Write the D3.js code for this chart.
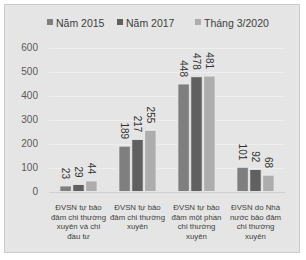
<!DOCTYPE html>
<html lang="vi">
<head>
  <meta charset="UTF-8">
  <title>ĐVSN chart</title>
  <script src="https://d3js.org/d3.v7.min.js"></script>
  <style>
    body { margin: 0; background: #fff; }
    text { font-family: "Liberation Sans", Arial, sans-serif; }
  </style>
</head>
<body>
  <svg width="306" height="260"></svg>

  <script>
    // data
    var categories = [
      ["ĐVSN tự bảo", "đảm chi thường", "xuyên và chi", "đầu tư"],
      ["ĐVSN tự bảo", "đảm chi thường", "xuyên"],
      ["ĐVSN tự bảo", "đảm một phần", "chi thường", "xuyên"],
      ["ĐVSN do Nhà", "nước bảo đảm", "chi thường", "xuyên"]
    ];
    var seriesNames = ["Năm 2015", "Năm 2017", "Tháng 3/2020"];
    var v2015 = [23, 189, 448, 101];
    var v2017 = [29, 217, 478, 92];
    var v2020 = [44, 255, 481, 68];
    var yTicks = [0, 100, 200, 300, 400, 500, 600];
    var colors = ["#7f7f7f", "#606060", "#adadad"];

    var series = [v2015, v2017, v2020];

    var svg = d3.select("svg");

    // chart frame
    svg.append("rect")
        .attr("x", 4.5).attr("y", 4.5)
        .attr("width", 295).attr("height", 248)
        .attr("fill", "#e5e5e5")
        .attr("stroke", "#a6a6a6")
        .attr("stroke-dasharray", "1,1");

    var y = d3.scaleLinear().domain([0, 600]).range([191.5, 47.5]);

    var x0 = d3.scaleBand()
        .domain(d3.range(categories.length))
        .range([49, 285])
        .paddingInner(0.37)
        .paddingOuter(0.185);

    var x1 = d3.scaleBand()
        .domain(d3.range(series.length))
        .range([0, x0.bandwidth()])
        .paddingInner(0.12);

    // gridlines
    svg.append("g").selectAll("line")
        .data(yTicks)
        .enter().append("line")
        .attr("x1", 49).attr("x2", 285)
        .attr("y1", d => Math.round(y(d)) + 0.5)
        .attr("y2", d => Math.round(y(d)) + 0.5)
        .attr("stroke", d => d === 0 ? "#d0d0d0" : "#eeeeee")
        .attr("stroke-width", 1);

    // y labels
    svg.append("g").selectAll("text")
        .data(yTicks)
        .enter().append("text")
        .attr("x", 38)
        .attr("y", d => y(d) + 3.5)
        .attr("text-anchor", "end")
        .attr("font-size", 10)
        .attr("fill", "#595959")
        .text(d => d);

    // bars
    var groups = svg.append("g").selectAll("g")
        .data(categories.map((c, i) => i))
        .enter().append("g")
        .attr("transform", i => "translate(" + x0(i) + ",0)");

    groups.selectAll("rect")
        .data(i => series.map((s, k) => ({ k: k, v: s[i] })))
        .enter().append("rect")
        .attr("x", d => x1(d.k))
        .attr("width", x1.bandwidth())
        .attr("y", d => y(d.v))
        .attr("height", d => y(0) - y(d.v))
        .attr("fill", d => colors[d.k])
        .attr("stroke", "#eeeeee")
        .attr("stroke-width", 0.8);

    // value labels, rotated
    groups.selectAll("text.val")
        .data(i => series.map((s, k) => ({ k: k, v: s[i] })))
        .enter().append("text")
        .attr("class", "val")
        .attr("transform", d => "translate(" + (x1(d.k) + x1.bandwidth() / 2 - 3.5) + "," + (y(d.v) - 7) + ") rotate(90)")
        .attr("text-anchor", "end")
        .attr("font-size", 10)
        .attr("fill", "#333333")
        .text(d => d.v);

    // category labels
    var catText = svg.append("g").selectAll("text")
        .data(categories)
        .enter().append("text")
        .attr("text-anchor", "middle")
        .attr("font-size", 7.8)
        .attr("fill", "#404040");

    catText.each(function(lines, i) {
      var t = d3.select(this);
      lines.forEach(function(l, j) {
        t.append("tspan")
            .attr("x", x0(i) + x0.bandwidth() / 2)
            .attr("y", 210 + j * 9.7)
            .text(l);
      });
    });

    // legend
    var legendX = [47, 117, 195];
    var legend = svg.append("g").selectAll("g")
        .data(seriesNames)
        .enter().append("g")
        .attr("transform", (d, i) => "translate(" + legendX[i] + ",0)");

    legend.append("rect")
        .attr("x", 0).attr("y", 19)
        .attr("width", 6).attr("height", 6)
        .attr("fill", (d, i) => colors[i]);

    legend.append("text")
        .attr("x", 9).attr("y", 26.5)
        .attr("font-size", 10.5)
        .attr("fill", "#404040")
        .text(d => d);
  </script>
</body>
</html>
